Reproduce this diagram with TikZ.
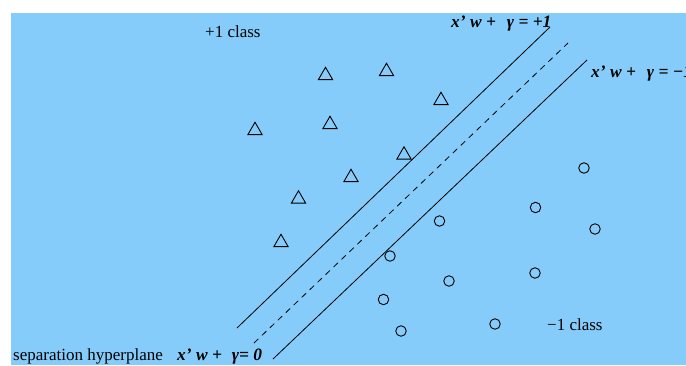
\documentclass[tikz,border=0pt]{standalone}
\usepackage{fontspec}
\setmainfont{Liberation Serif}
\usetikzlibrary{shapes.geometric}
\definecolor{bg}{RGB}{133,204,250}
\tikzset{
  tri/.style={draw, regular polygon, regular polygon sides=3, minimum size=16.5pt, inner sep=0pt, line width=0.9pt},
  circ/.style={draw, circle, minimum size=10.5pt, inner sep=0pt, line width=0.9pt},
  lbl/.style={anchor=base west, inner sep=0pt, font=\fontsize{17}{20}\selectfont},
  eq/.style={anchor=base west, inner sep=0pt, font=\fontsize{17.4}{20}\selectfont\bfseries\itshape},
  sep/.style={line width=0.8pt}
}
\begin{document}
\begin{tikzpicture}[x=1pt,y=-1pt]
\useasboundingbox (0,0) rectangle (686,365);
\fill[bg] (10.5,13) rectangle (686,365);
\begin{scope}
\clip (10.5,13) rectangle (686,365);
% separating lines
\coordinate (u1) at (237,328); \coordinate (u2) at (550,27);
\coordinate (d1) at (254,343); \coordinate (d2) at (568,43);
\coordinate (l1) at (273,359); \coordinate (l2) at (587,60);
\draw[sep] (u1) -- (u2);
\draw[sep, dash pattern=on 6pt off 5pt] (d1) -- (d2);
\draw[sep] (l1) -- (l2);
% triangles
\node[tri] (t1) at (325.5,75.5) {};
\node[tri] (t2) at (386.5,71.5) {};
\node[tri] (t3) at (441,100.5) {};
\node[tri] (t4) at (255,130.5) {};
\node[tri] (t5) at (330,124.5) {};
\node[tri] (t6) at (404,155) {};
\node[tri] (t7) at (351,177.5) {};
\node[tri] (t8) at (298.5,199) {};
\node[tri] (t9) at (281,242.5) {};
% circles
\node[circ] (c1) at (584,168) {};
\node[circ] (c2) at (535.5,207.5) {};
\node[circ] (c3) at (439.5,221) {};
\node[circ] (c4) at (595,229) {};
\node[circ] (c5) at (390,256) {};
\node[circ] (c6) at (535,273) {};
\node[circ] (c7) at (449,281) {};
\node[circ] (c8) at (383.5,299.5) {};
\node[circ] (c9) at (495,324) {};
\node[circ] (c10) at (401,331) {};
% labels
\node[lbl] (pc) at (205,37) {+1 class};
\node[lbl] (mc) at (547,330) {−1 class};
\node[lbl] (sh) at (13,360) {separation hyperplane};
\node[eq] (e1) at (451,27) {x’ w +\hspace{11pt}γ = +1};
\node[eq] (e2) at (591,77) {x’ w +\hspace{11pt}γ = −1};
\node[eq] (e0) at (177,360) {x’ w +\hspace{10pt}γ= 0};
\end{scope}
\end{tikzpicture}
\end{document}
